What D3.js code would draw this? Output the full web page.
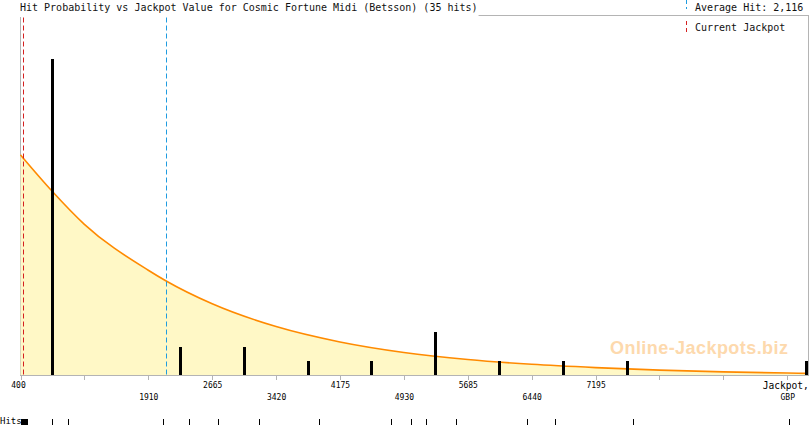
<!DOCTYPE html>
<html>
<head>
<meta charset="utf-8">
<script src="https://d3js.org/d3.v7.min.js"></script>
<style>
  body { margin: 0; background: #fff; }
  text { font-family: "DejaVu Sans Mono", monospace; }
</style>
</head>
<body>
<script>
// ---- data ----
var title = "Hit Probability vs Jackpot Value for Cosmic Fortune Midi (Betsson) (35 hits)"
var averageHit = 2116
var currentJackpot = 427

// individual hit values (GBP)
var hits = [405, 410, 412, 415, 418, 420, 425, 428, 430, 433,
            436, 440, 443, 447, 450, 455, 460, 463, 468, 474,
            777, 966, 2087, 2394, 2736, 3219, 3927, 4777, 5012, 5189,
            5543, 6381, 6711, 7643, 9480]

// probability curve, in hit units
var curveX = [400, 766, 1155, 1910, 2116, 2665, 3420, 4175, 4930, 5685, 6440, 7195, 7950, 8705, 9460, 9705]
var curveY = [15.32, 12.85, 10.50, 7.31, 6.58, 4.98, 3.40, 2.33, 1.60, 1.11, 0.78, 0.55, 0.37, 0.25, 0.17, 0.15]

var tickValues = [400, 1155, 1910, 2665, 3420, 4175, 4930, 5685, 6440, 7195, 7950, 8705, 9460]
var topLabels = [[400, "400"], [2665, "2665"], [4175, "4175"], [5685, "5685"], [7195, "7195"], [9460, "Jackpot,"]]
var bottomLabels = [[1910, "1910"], [3420, "3420"], [4930, "4930"], [6440, "6440"], [9460, "GBP"]]

// ---- layout ----
var w = 810, h = 425
var plotLeft = 20.5, plotRight = 808, plotTop = 15.5, base = 375.5
var grey = "#b4b4b4"
var red = "#d42020", blue = "#1f9ce0"

var svg = d3.select("body").append("svg").attr("width", w).attr("height", h)

var x = d3.scaleLinear().domain([400, 9705]).range([plotLeft, plotRight]).clamp(true)
var y = d3.scaleLinear().domain([0, 25]).range([base, plotTop])
var px = v => Math.round(x(v)) + 0.5

// plot frame
svg.append("rect")
    .attr("x", plotLeft).attr("y", plotTop)
    .attr("width", plotRight - plotLeft).attr("height", base - plotTop)
    .attr("fill", "none").attr("stroke", grey)
    .attr("shape-rendering", "crispEdges")

// title with white backing over the frame
var t = svg.append("text")
    .attr("x", 20).attr("y", 10.5)
    .attr("font-size", "10px")
    .attr("fill", "#111")
    .text(title)
var tb = t.node().getBBox()
svg.insert("rect", "text")
    .attr("x", 0).attr("y", 0)
    .attr("width", tb.x + tb.width + 1).attr("height", 17)
    .attr("fill", "#fff")

// area + curve
var pts = curveX.map(function (v, i) { return [v, curveY[i]] })
svg.append("path")
    .datum(pts)
    .attr("fill", "#fff8c6")
    .attr("d", d3.area().x(d => x(d[0])).y0(base - 0.5).y1(d => y(d[1])).curve(d3.curveMonotoneX))
svg.append("path")
    .datum(pts)
    .attr("fill", "none")
    .attr("stroke", "#ff8a00")
    .attr("stroke-width", 1.6)
    .attr("d", d3.line().x(d => x(d[0])).y(d => y(d[1])).curve(d3.curveMonotoneX))

// watermark
svg.append("text")
    .attr("x", 699).attr("y", 354)
    .attr("text-anchor", "middle")
    .attr("font-weight", "bold")
    .attr("font-size", "18px")
    .attr("textLength", 178)
    .attr("fill", "#fdd9ad")
    .style("font-family", "Liberation Sans, Arial, sans-serif")
    .text("Online-Jackpots.biz")

// histogram bars
var bins = d3.bin().domain([400, 10215]).thresholds(tickValues.slice(1))(hits)
svg.append("g").selectAll("rect")
    .data(bins.filter(b => b.length > 0))
    .join("rect")
    .attr("x", d => Math.round(Math.min(x((d.x0 + d.x1) / 2), plotRight - 1.5) - 1.5))
    .attr("y", d => Math.round(y(d.length)))
    .attr("width", 3)
    .attr("height", d => base - 0.5 - Math.round(y(d.length)))
    .attr("fill", "#000")

// current jackpot + average lines
svg.append("line")
    .attr("x1", px(currentJackpot)).attr("x2", px(currentJackpot))
    .attr("y1", plotTop + 2).attr("y2", base)
    .attr("stroke", red).attr("stroke-dasharray", "5,3")
svg.append("line")
    .attr("x1", px(averageHit)).attr("x2", px(averageHit))
    .attr("y1", plotTop + 2).attr("y2", base)
    .attr("stroke", blue).attr("stroke-dasharray", "5,3")

// legend
svg.append("line")
    .attr("x1", 686.5).attr("x2", 686.5).attr("y1", 0).attr("y2", 9)
    .attr("stroke", blue).attr("stroke-dasharray", "4,3")
svg.append("text")
    .attr("x", 695).attr("y", 10.5).attr("font-size", "10px").attr("fill", "#111")
    .text("Average Hit: " + d3.format(",")(averageHit))
svg.append("line")
    .attr("x1", 686.5).attr("x2", 686.5).attr("y1", 21).attr("y2", 33)
    .attr("stroke", red).attr("stroke-dasharray", "4,3")
svg.append("text")
    .attr("x", 695).attr("y", 30.5).attr("font-size", "10px").attr("fill", "#111")
    .text("Current Jackpot")

// x axis
var xAxis = svg.append("g")
    .attr("transform", "translate(0," + base + ")")
    .call(d3.axisBottom(x).tickValues(tickValues).tickSize(4).tickFormat(""))
xAxis.select(".domain").remove()
xAxis.selectAll("line").attr("stroke", grey).attr("shape-rendering", "crispEdges")

var topRow = svg.append("g")
    .attr("transform", "translate(0," + base + ")")
    .call(d3.axisBottom(x).tickValues(topLabels.map(d => d[0])).tickSize(0)
        .tickFormat((d, i) => topLabels[i][1]))
var bottomRow = svg.append("g")
    .attr("transform", "translate(0," + (base + 12) + ")")
    .call(d3.axisBottom(x).tickValues(bottomLabels.map(d => d[0])).tickSize(0)
        .tickFormat((d, i) => bottomLabels[i][1]))
;[topRow, bottomRow].forEach(function (g) {
    g.select(".domain").remove()
    g.selectAll("text")
        .attr("font-family", "DejaVu Sans Mono, monospace")
        .attr("font-size", "8px")
        .attr("fill", "#000")
        .attr("dy", "0.71em")
        .attr("y", 7)
})
topRow.selectAll("text").filter(d => d === 400).attr("x", -2.5)
topRow.selectAll("text").filter(d => d === 9460).attr("font-size", "9.6px").attr("x", -2)

// hits rug
svg.append("text")
    .attr("x", 0).attr("y", 424)
    .attr("font-size", "9px").attr("fill", "#000")
    .text("Hits")
svg.append("g").selectAll("line")
    .data(hits)
    .join("line")
    .attr("x1", d => px(d)).attr("x2", d => px(d))
    .attr("y1", 419).attr("y2", 425)
    .attr("stroke", "#000")
</script>
</body>
</html>
